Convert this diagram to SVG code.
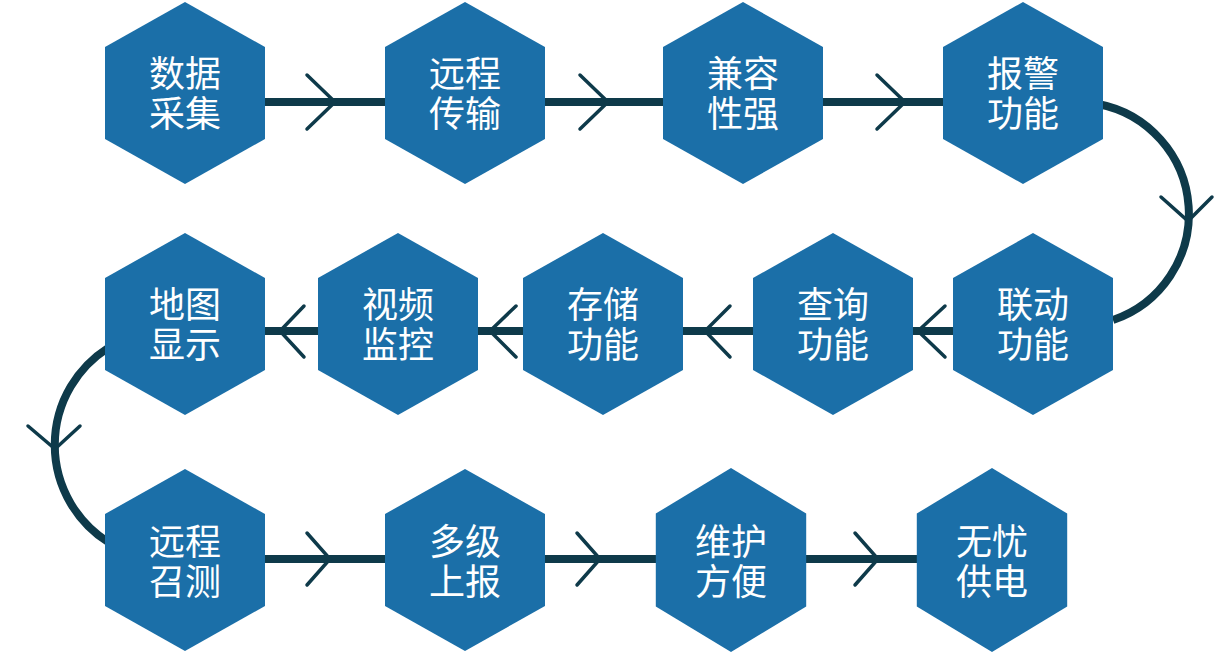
<svg xmlns="http://www.w3.org/2000/svg" width="1221" height="659" viewBox="0 0 1221 659">
<defs>
<style>
.hex{fill:#1b6fa8;}
.lbl{fill:#ffffff;font-family:"Noto Sans CJK SC","Noto Sans",sans-serif;font-size:36px;font-weight:400;text-anchor:middle;}
.ln{fill:none;stroke:#0e3a4a;stroke-width:8;}
.chev{fill:none;stroke:#0e3a4a;stroke-width:3.5;stroke-linecap:round;stroke-linejoin:miter;}
</style>
<polygon id="hx" points="0,-91 80,-46 80,46 0,91 -80,46 -80,-46"/>
</defs>
<rect width="1221" height="659" fill="#ffffff"/>
<g id="connectors">
<path class="ln" d="M185,102 H1030"/>
<path class="ln" d="M1098,104 A112,112 0 0 1 1113,320"/>
<path class="ln" d="M1040,331 H185"/>
<path class="ln" d="M108,348 A115,115 0 0 0 108,542"/>
<path class="ln" d="M185,559 H992"/>
<path class="chev" d="M307,75 L335,102 L307,129"/>
<path class="chev" d="M580,75 L608,102 L580,129"/>
<path class="chev" d="M877,75 L905,102 L877,129"/>
<path class="chev" d="M1161,197 L1188,221 L1212,197"/>
<path class="chev" d="M945,306 L918,331 L945,357"/>
<path class="chev" d="M730,306 L705,331 L730,357"/>
<path class="chev" d="M516,306 L490,331 L516,357"/>
<path class="chev" d="M304,306 L280,331 L304,357"/>
<path class="chev" d="M28,426 L55,449 L80,426"/>
<path class="chev" d="M307,533 L330,559 L307,585"/>
<path class="chev" d="M577,533 L600,559 L577,585"/>
<path class="chev" d="M855,533 L878,559 L855,585"/>
</g>
<g id="n1" transform="translate(185,93)"><use href="#hx" class="hex"/><text class="lbl"><tspan x="0" y="-6">数据</tspan><tspan x="0" y="34">采集</tspan></text></g>
<g id="n2" transform="translate(465,93)"><use href="#hx" class="hex"/><text class="lbl"><tspan x="0" y="-6">远程</tspan><tspan x="0" y="34">传输</tspan></text></g>
<g id="n3" transform="translate(743,93)"><use href="#hx" class="hex"/><text class="lbl"><tspan x="0" y="-6">兼容</tspan><tspan x="0" y="34">性强</tspan></text></g>
<g id="n4" transform="translate(1023,93)"><use href="#hx" class="hex"/><text class="lbl"><tspan x="0" y="-6">报警</tspan><tspan x="0" y="34">功能</tspan></text></g>
<g id="n5" transform="translate(1033,324)"><use href="#hx" class="hex"/><text class="lbl"><tspan x="0" y="-6">联动</tspan><tspan x="0" y="34">功能</tspan></text></g>
<g id="n6" transform="translate(833,324)"><use href="#hx" class="hex"/><text class="lbl"><tspan x="0" y="-6">查询</tspan><tspan x="0" y="34">功能</tspan></text></g>
<g id="n7" transform="translate(603,324)"><use href="#hx" class="hex"/><text class="lbl"><tspan x="0" y="-6">存储</tspan><tspan x="0" y="34">功能</tspan></text></g>
<g id="n8" transform="translate(398,324)"><use href="#hx" class="hex"/><text class="lbl"><tspan x="0" y="-6">视频</tspan><tspan x="0" y="34">监控</tspan></text></g>
<g id="n9" transform="translate(185,324)"><use href="#hx" class="hex"/><text class="lbl"><tspan x="0" y="-6">地图</tspan><tspan x="0" y="34">显示</tspan></text></g>
<g id="n10" transform="translate(185,560)"><use href="#hx" class="hex"/><text class="lbl"><tspan x="0" y="-5">远程</tspan><tspan x="0" y="35">召测</tspan></text></g>
<g id="n11" transform="translate(465,560)"><use href="#hx" class="hex"/><text class="lbl"><tspan x="0" y="-5">多级</tspan><tspan x="0" y="35">上报</tspan></text></g>
<g id="n12" transform="translate(731,560)"><use href="#hx" class="hex" transform="scale(0.94,1.01)"/><text class="lbl"><tspan x="0" y="-5">维护</tspan><tspan x="0" y="35">方便</tspan></text></g>
<g id="n13" transform="translate(992,560)"><use href="#hx" class="hex" transform="scale(0.94,1.01)"/><text class="lbl"><tspan x="0" y="-5">无忧</tspan><tspan x="0" y="35">供电</tspan></text></g>
</svg>
